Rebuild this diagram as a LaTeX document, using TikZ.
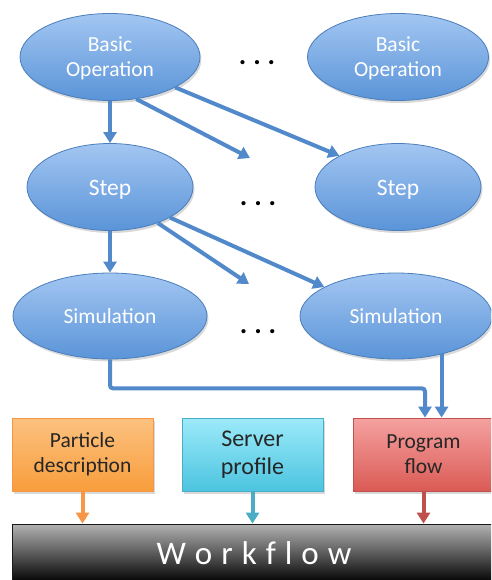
\documentclass[tikz,border=0pt]{standalone}
\usepackage{fontspec}
\setmainfont{Carlito}
\usetikzlibrary{shapes.geometric,arrows.meta,shadows,calc}
\definecolor{ovaltop}{RGB}{163,198,242}
\definecolor{ovalbot}{RGB}{90,148,216}
\definecolor{ovalline}{RGB}{74,126,187}
\definecolor{flowblue}{RGB}{82,137,203}
\definecolor{orgtop}{RGB}{252,194,128}
\definecolor{orgbot}{RGB}{248,157,60}
\definecolor{orgline}{RGB}{247,150,70}
\definecolor{cyntop}{RGB}{156,234,249}
\definecolor{cynbot}{RGB}{76,196,224}
\definecolor{cynline}{RGB}{75,172,198}
\definecolor{redtop}{RGB}{245,162,160}
\definecolor{redbot}{RGB}{218,90,85}
\definecolor{redline}{RGB}{192,80,77}
\newcommand{\lowered}[2]{\raisebox{-#1}[\height][\depth]{#2}}
\newcommand{\twolines}[2]{\lowered{2.5pt}{\begin{tabular}{@{}c@{}}#1\\#2\end{tabular}}}
\begin{document}
\begin{tikzpicture}[x=1pt,y=-1pt,
  oval/.style={ellipse, draw=ovalline, line width=0.8pt, top color=ovaltop, bottom color=ovalbot,
     text=white, align=center, inner sep=0pt,
     general shadow={fill=black, opacity=0.15, shadow xshift=1.5pt, shadow yshift=-2.5pt}},
  box/.style={rectangle, draw=#1line, line width=0.8pt, top color=#1top, bottom color=#1bot,
     text=black!85, align=center, inner sep=0pt, minimum width=141pt, minimum height=73pt,
     general shadow={fill=black, opacity=0.15, shadow xshift=1.5pt, shadow yshift=-2.5pt}},
  flow/.style={draw=flowblue, line width=4pt, -{Triangle[width=13pt,length=11pt]}},
  feed/.style={draw=#1, line width=4pt, -{Triangle[width=13pt,length=11pt]}},
  dots/.style={font=\fontsize{28}{28}\selectfont\bfseries, inner sep=0pt}
]
\useasboundingbox (0,0) rectangle (491,580);
\clip (0,0) rectangle (491,580);
\fill[white] (0,0) rectangle (491,580);

% ovals
\node[oval, minimum width=180pt, minimum height=87pt, font=\fontsize{21.5}{25}\selectfont] (bo1) at (110,57) {\twolines{Basic}{Operation}};
\node[oval, minimum width=181pt, minimum height=87pt, font=\fontsize{21.5}{25}\selectfont] (bo2) at (398,57) {\twolines{Basic}{Operation}};
\node[oval, minimum width=166pt, minimum height=87pt, font=\fontsize{23.5}{25}\selectfont] (st1) at (110,187) {\lowered{3pt}{Step}};
\node[oval, minimum width=166pt, minimum height=87pt, font=\fontsize{23.5}{25}\selectfont] (st2) at (398,187) {\lowered{3pt}{Step}};
\node[oval, minimum width=194pt, minimum height=86pt, font=\fontsize{21.5}{25}\selectfont] (sm1) at (110,316) {Simulation};
\node[oval, minimum width=192pt, minimum height=86pt, font=\fontsize{21.5}{25}\selectfont] (sm2) at (396,316) {Simulation};

% dots
\node[dots] (dt1) at (257,63) {.\hspace{7pt}.\hspace{7pt}.};
\node[dots] (dt2) at (258,204) {.\hspace{7pt}.\hspace{7pt}.};
\node[dots] (dt3) at (258,332) {.\hspace{7pt}.\hspace{7pt}.};

% boxes
\node[box=org, font=\fontsize{21.5}{25}\selectfont] (pd) at (82.5,454.5) {Particle\\description};
\node[box=cyn, font=\fontsize{24}{28}\selectfont] (sp) at (252.5,454.5) {Server\\profile};
\node[box=red, font=\fontsize{21.5}{25}\selectfont] (pf) at (423.5,454.5) {Program\\flow};

% workflow bar
\node[rectangle, draw=black!90, line width=0.8pt, top color=black!30, bottom color=black, minimum width=484pt, minimum height=59pt, inner sep=0pt,
  text=white, font=\fontsize{33}{33}\selectfont] (wf) at (254,553.5)
  {W\hspace{9pt}o\hspace{9pt}r\hspace{9pt}k\hspace{9pt}f\hspace{9pt}l\hspace{9pt}o\hspace{9pt}w};

% dangling ends
\coordinate (d1) at (250,158);
\coordinate (d2) at (249,284);

% connectors
\draw[flow] (bo1.south) -- (st1.north);
\draw[flow] (bo1.-58) -- (d1);
\draw[flow] (bo1.-25.5) -- (st2.152);
\draw[flow] (st1.south) -- (sm1.north);
\draw[flow] (st1.-37) -- (d2);
\draw[flow] (st1.-27) -- (sm2.158);
\draw[flow, rounded corners=3pt] (sm1.south) -- ++(0,29) -| ([xshift=1.5pt]pf.north);
\draw[flow] (sm2.-40) -- (sm2.-40 |- pf.north);

\draw[feed=orgline] (pd.south) -- (pd.south |- wf.north);
\draw[feed=cynline] (sp.south) -- (sp.south |- wf.north);
\draw[feed=redline] (pf.south) -- (pf.south |- wf.north);
\end{tikzpicture}
\end{document}
